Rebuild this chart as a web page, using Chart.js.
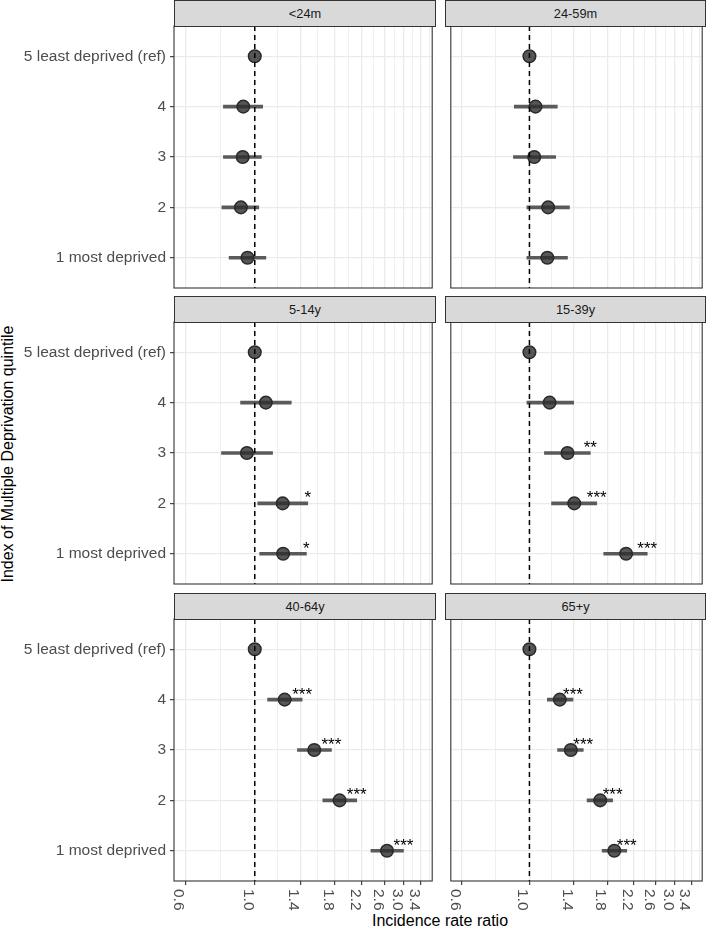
<!DOCTYPE html>
<html>
<head>
<meta charset="utf-8">
<script src="https://cdn.jsdelivr.net/npm/chart.js@4.4.1/dist/chart.umd.min.js"></script>
<style>
  body { margin: 0; background: #fff; font-family: "Liberation Sans", Arial, sans-serif; }
  #wrap { position: relative; width: 708px; height: 929px; overflow: hidden; }
  .pane { position: absolute; }
  .strip { position: absolute; box-sizing: border-box; background: #d9d9d9; border: 1px solid #333;
           font-size: 12.8px; color: #1a1a1a; text-align: center; line-height: 25px; }
  #xtitle { position: absolute; left: 174px; width: 532px; top: 912px; line-height: 18px;
            font-size: 16px; text-align: center; color: #000; }
  #ytitle { position: absolute; left: -192px; top: 444.5px; width: 400px; line-height: 18px;
            font-size: 16px; text-align: center; color: #000; transform: rotate(-90deg); }
</style>
</head>
<body>
<div id="wrap">
  <div id="xtitle">Incidence rate ratio</div>
  <div id="ytitle">Index of Multiple Deprivation quintile</div>
</div>
<script>
// quintiles, top to bottom
const categories = ['5 least deprived (ref)', '4', '3', '2', '1 most deprived'];
const xTicks = [0.6, 1.0, 1.4, 1.8, 2.2, 2.6, 3.0, 3.4];
const panelTitles = ['<24m', '24-59m', '5-14y', '15-39y', '40-64y', '65+y'];

// incidence rate ratios (same order as categories)
const irrUnder24m = [1.0, 0.919, 0.915, 0.903, 0.948];
const lowUnder24m = [null, 0.794, 0.794, 0.785, 0.828];
const highUnder24m = [null, 1.060, 1.050, 1.030, 1.085];
const starsUnder24m = ['', '', '', '', ''];

const irr24to59m = [1.0, 1.047, 1.037, 1.152, 1.145];
const low24to59m = [null, 0.892, 0.886, 0.981, 0.981];
const high24to59m = [null, 1.234, 1.219, 1.353, 1.333];
const stars24to59m = ['', '', '', '', ''];

const irr5to14y = [1.0, 1.085, 0.944, 1.228, 1.232];
const low5to14y = [null, 0.901, 0.783, 1.022, 1.037];
const high5to14y = [null, 1.308, 1.140, 1.477, 1.462];
const stars5to14y = ['', '', '', '*', '*'];

const irr15to39y = [1.0, 1.165, 1.333, 1.403, 2.076];
const low15to39y = [null, 0.981, 1.120, 1.182, 1.753];
const high15to39y = [null, 1.397, 1.584, 1.663, 2.436];
const stars15to39y = ['', '', '**', '***', '***'];

const irr40to64y = [1.0, 1.246, 1.549, 1.867, 2.646];
const low40to64y = [null, 1.099, 1.369, 1.650, 2.351];
const high40to64y = [null, 1.417, 1.758, 2.117, 2.987];
const stars40to64y = ['', '***', '***', '***', '***'];

const irr65plus = [1.0, 1.258, 1.367, 1.707, 1.899];
const low65plus = [null, 1.145, 1.237, 1.546, 1.732];
const high65plus = [null, 1.390, 1.502, 1.875, 2.087];
const stars65plus = ['', '***', '***', '***', '***'];

const panels = [
  { title: panelTitles[0], irr: irrUnder24m, low: lowUnder24m, high: highUnder24m, stars: starsUnder24m },
  { title: panelTitles[1], irr: irr24to59m, low: low24to59m, high: high24to59m, stars: stars24to59m },
  { title: panelTitles[2], irr: irr5to14y, low: low5to14y, high: high5to14y, stars: stars5to14y },
  { title: panelTitles[3], irr: irr15to39y, low: low15to39y, high: high15to39y, stars: stars15to39y },
  { title: panelTitles[4], irr: irr40to64y, low: low40to64y, high: high40to64y, stars: stars40to64y },
  { title: panelTitles[5], irr: irr65plus, low: low65plus, high: high65plus, stars: stars65plus }
];

const FONT = '"Liberation Sans", Arial, sans-serif';
Chart.defaults.font.family = FONT;

// y position of each quintile (5 at top)
const yPos = [5, 4, 3, 2, 1];

// grid: majors + minor lines halfway (log space) between them
const gridVals = [];
xTicks.forEach((v, i) => {
  gridVals.push(v);
  if (i < xTicks.length - 1) gridVals.push(Math.sqrt(v * xTicks[i + 1]));
});
const nT = xTicks.length;
gridVals.push(xTicks[nT - 1] * Math.sqrt(xTicks[nT - 1] / xTicks[nT - 2]));

const colLeft = [174, 445], colWidth = [262, 261];
const rowTop = [26, 322, 619], panelH = 262;
const wrap = document.getElementById('wrap');

function makePanel(p, idx) {
  const col = idx % 2, row = Math.floor(idx / 2);
  const leftCol = col === 0, bottomRow = row === 2;
  const L = colLeft[col], W = colWidth[col], T = rowTop[row];
  const padL = 2, padR = 4, padT = 14;
  const yW = leftCol ? L - padL : 0;
  const xH = bottomRow ? 34 : 0;
  const padB = bottomRow ? 0 : 14;
  const cw = padL + yW + W + padR, ch = padT + panelH + xH + padB;

  const box = document.createElement('div');
  box.className = 'pane';
  box.style.left = (L - yW - padL) + 'px';
  box.style.top = (T - padT) + 'px';
  box.style.width = cw + 'px';
  box.style.height = ch + 'px';
  const cv = document.createElement('canvas');
  cv.width = cw; cv.height = ch;
  cv.style.width = cw + 'px'; cv.style.height = ch + 'px';
  box.appendChild(cv);
  wrap.appendChild(box);

  const strip = document.createElement('div');
  strip.className = 'strip';
  strip.style.left = L + 'px';
  strip.style.top = (T - 26) + 'px';
  strip.style.width = W + 'px';
  strip.style.height = '27px';
  strip.textContent = p.title;
  wrap.appendChild(strip);

  const points = p.irr.map((v, i) => ({ x: v, y: yPos[i] }));
  const cis = [];
  p.low.forEach((lo, i) => { if (lo != null) cis.push({ x: [lo, p.high[i]], y: yPos[i] }); });

  const decor = {
    id: 'decor' + idx,
    afterDatasetsDraw(chart) {
      const { ctx, chartArea: a, scales: { x, y } } = chart;
      // reference line at IRR = 1
      const x1 = x.getPixelForValue(1);
      ctx.save();
      ctx.strokeStyle = '#000';
      ctx.lineWidth = 1.5;
      ctx.setLineDash([5, 4]);
      ctx.beginPath();
      ctx.moveTo(x1, a.top);
      ctx.lineTo(x1, a.bottom);
      ctx.stroke();
      ctx.restore();
      // significance stars
      ctx.save();
      ctx.fillStyle = '#000';
      ctx.font = '17px ' + FONT;
      ctx.textAlign = 'center';
      ctx.textBaseline = 'alphabetic';
      p.stars.forEach((s, i) => {
        if (!s) return;
        ctx.fillText(s, x.getPixelForValue(p.high[i]), y.getPixelForValue(yPos[i]));
      });
      ctx.restore();
    },
    afterDraw(chart) {
      const { ctx, chartArea: a, scales: { x } } = chart;
      ctx.save();
      ctx.strokeStyle = '#333';
      ctx.lineWidth = 1.1;
      ctx.strokeRect(a.left, a.top, a.width, a.height);
      ctx.restore();
      if (bottomRow) {
        ctx.save();
        ctx.fillStyle = '#4d4d4d';
        ctx.font = '15.5px ' + FONT;
        ctx.textAlign = 'left';
        ctx.textBaseline = 'alphabetic';
        xTicks.forEach(v => {
          const tx = x.getPixelForValue(v);
          ctx.save();
          ctx.translate(tx - 11, a.bottom + 8);
          ctx.rotate(Math.PI / 2);
          ctx.fillText(v.toFixed(1), 0, 0);
          ctx.restore();
        });
        ctx.restore();
      }
    }
  };

  new Chart(cv, {
    type: 'scatter',
    data: {
      datasets: [
        {
          type: 'scatter',
          data: points,
          pointRadius: 6.3,
          pointHoverRadius: 6.3,
          backgroundColor: 'rgba(45,45,45,0.8)',
          borderColor: '#2a2a2a',
          borderWidth: 1.5
        },
        {
          type: 'bar',
          indexAxis: 'y',
          data: cis,
          barThickness: 3,
          backgroundColor: '#5a5a5a',
          borderWidth: 0
        }
      ]
    },
    options: {
      responsive: false,
      animation: false,
      events: [],
      layout: { padding: { left: padL, right: padR, top: padT, bottom: padB } },
      plugins: { legend: { display: false }, tooltip: { enabled: false } },
      scales: {
        x: {
          type: 'logarithmic',
          min: 0.552,
          max: 3.69,
          offset: false,
          afterBuildTicks: s => { s.ticks = gridVals.map(v => ({ value: v, major: xTicks.includes(v) })); },
          afterFit: s => { s.height = xH; },
          ticks: { display: false, autoSkip: false },
          grid: {
            offset: false,
            color: '#ebebeb',
            lineWidth: c => (c.tick && c.tick.major ? 1.3 : 0.8),
            drawTicks: bottomRow,
            tickLength: 4,
            tickColor: c => (c.tick && c.tick.major ? '#333' : 'rgba(0,0,0,0)'),
            tickWidth: 1.1
          },
          border: { display: false }
        },
        y: {
          type: 'linear',
          min: 0.4,
          max: 5.6,
          offset: false,
          afterBuildTicks: s => { s.ticks = [1, 2, 3, 4, 5].map(v => ({ value: v })); },
          afterFit: s => { s.width = yW; },
          ticks: {
            display: leftCol,
            autoSkip: false,
            padding: 4,
            color: '#4d4d4d',
            font: { size: 15.5, family: FONT },
            callback: v => categories[5 - v]
          },
          grid: {
            offset: false,
            color: '#ebebeb',
            lineWidth: 1.3,
            drawTicks: leftCol,
            tickLength: 4,
            tickColor: '#333',
            tickWidth: 1.1
          },
          border: { display: false }
        }
      }
    },
    plugins: [decor]
  });
}

panels.forEach(makePanel);
</script>
</body>
</html>
